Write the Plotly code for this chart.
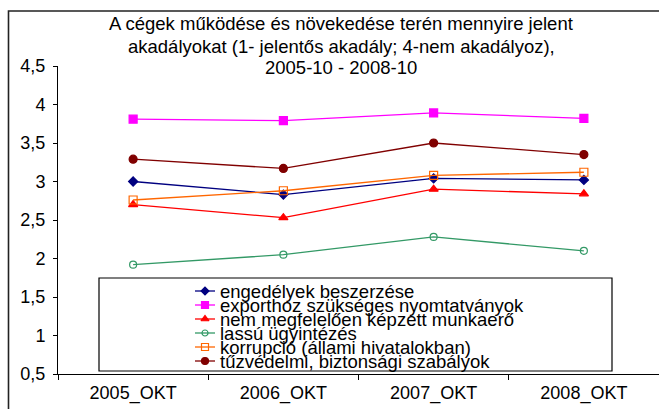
import plotly.graph_objects as go

# ---------------- data ----------------
categories = ["2005_OKT", "2006_OKT", "2007_OKT", "2008_OKT"]

series_names = [
    "engedélyek beszerzése",
    "exporthoz szükséges nyomtatványok",
    "nem megfelelően képzett munkaerő",
    "lassú ügyintézés",
    "korrupció (állami hivatalokban)",
    "tűzvédelmi, biztonsági szabályok",
]
engedelyek = [3.00, 2.83, 3.04, 3.02]
export = [3.81, 3.79, 3.89, 3.82]
munkaero = [2.70, 2.53, 2.90, 2.84]
lassu = [1.92, 2.05, 2.28, 2.10]
korrupcio = [2.76, 2.88, 3.08, 3.12]
tuzvedelmi = [3.29, 3.17, 3.50, 3.35]
series_values = [engedelyek, export, munkaero, lassu, korrupcio, tuzvedelmi]

y_tickvals = [0.5, 1, 1.5, 2, 2.5, 3, 3.5, 4, 4.5]
y_ticktext = ["0,5", "1", "1,5", "2", "2,5", "3", "3,5", "4", "4,5"]

title_lines = [
    "A cégek működése és növekedése terén mennyire jelent",
    "akadályokat (1- jelentős akadály; 4-nem akadályoz),",
    "2005-10 - 2008-10",
]

# ---------------- styles ----------------
colors = ["#000080", "#FF00FF", "#FF0000", "#339966", "#FF6600", "#800000"]
symbols = ["diamond", "square", "triangle-up", "circle-open", "square-open", "circle"]
sizes = [7, 8, 8, 7, 8, 8]

W, H = 659, 409
L, R, T, B = 58, 0, 66, 35
PW, PH = W - L - R, H - T - B
FONT = "Liberation Sans, Arial, sans-serif"


def px2x(px):
    return (px - L) / PW


def px2y(py):
    return (H - B - py) / PH


fig = go.Figure()
for name, vals, c, s, sz in zip(series_names, series_values, colors, symbols, sizes):
    fig.add_trace(go.Scatter(
        x=categories, y=vals, mode="lines+markers", name=name,
        line=dict(color=c, width=1.3),
        marker=dict(symbol=s, size=sz, color=c,
                    line=dict(color=c, width=1.2)),
        showlegend=False,
    ))

# manual legend (keys drawn on an overlay axis in paper-like coordinates)
leg_x0, leg_x1, leg_y0, leg_y1 = 99, 612, 278, 371
key_y0, key_step = 291, 14.0
for i, (name, c, s, sz) in enumerate(zip(series_names, colors, symbols, sizes)):
    yy = px2y(key_y0 + i * key_step)
    fig.add_trace(go.Scatter(
        x=[px2x(195), px2x(205), px2x(215)], y=[yy, yy, yy],
        mode="lines", line=dict(color=c, width=1.3),
        xaxis="x2", yaxis="y2", showlegend=False, hoverinfo="skip",
    ))
    fig.add_trace(go.Scatter(
        x=[px2x(205)], y=[yy], mode="markers",
        marker=dict(symbol=s, size=sz - 1, color=c, line=dict(color=c, width=1.2)),
        xaxis="x2", yaxis="y2", showlegend=False, hoverinfo="skip",
    ))
    fig.add_annotation(
        x=px2x(218), y=yy, xref="paper", yref="paper", text=name,
        showarrow=False, xanchor="left", yanchor="middle",
        font=dict(family=FONT, size=18.5, color="#000000"),
    )

fig.add_shape(type="rect", xref="paper", yref="paper",
              x0=px2x(leg_x0), x1=px2x(leg_x1), y0=px2y(leg_y1), y1=px2y(leg_y0),
              line=dict(color="#000000", width=1.2), fillcolor="white", layer="below")

# outer chart border
fig.add_shape(type="rect", xref="paper", yref="paper",
              x0=px2x(8.5), x1=px2x(720), y0=px2y(470), y1=px2y(11),
              line=dict(color="#222222", width=1.6), layer="below")

# title lines
title_y = [24, 46, 68]
for txt, ty in zip(title_lines, title_y):
    fig.add_annotation(
        x=px2x(341), y=px2y(ty), xref="paper", yref="paper", text=txt,
        showarrow=False, xanchor="center", yanchor="middle",
        font=dict(family=FONT, size=18.5, color="#000000"),
    )

fig.update_layout(
    width=W, height=H,
    margin=dict(l=L, r=R, t=T, b=B, pad=0),
    paper_bgcolor="white", plot_bgcolor="white",
    showlegend=False,
    font=dict(family=FONT, size=18, color="#000000"),
    xaxis=dict(
        type="category", range=[-0.5, 3.5], showgrid=False, zeroline=False,
        showline=True, linecolor="#000000", linewidth=1,
        ticks="outside", tickson="boundaries", ticklen=5, tickcolor="#000000",
        tickfont=dict(family=FONT, size=18), ticklabelstandoff=2,
    ),
    yaxis=dict(
        range=[0.5, 4.5], showgrid=False, zeroline=False,
        showline=True, linecolor="#000000", linewidth=1,
        ticks="outside", ticklen=4, tickcolor="#000000",
        tickvals=y_tickvals, ticktext=y_ticktext,
        tickfont=dict(family=FONT, size=18), ticklabelstandoff=4,
    ),
    xaxis2=dict(overlaying="x", range=[0, 1], visible=False, fixedrange=True),
    yaxis2=dict(overlaying="y", range=[0, 1], visible=False, fixedrange=True),
)

fig.write_html(
    "out.html",
    config={"displayModeBar": False},
    post_script="document.body.style.margin='0';document.body.style.overflow='hidden';",
)
